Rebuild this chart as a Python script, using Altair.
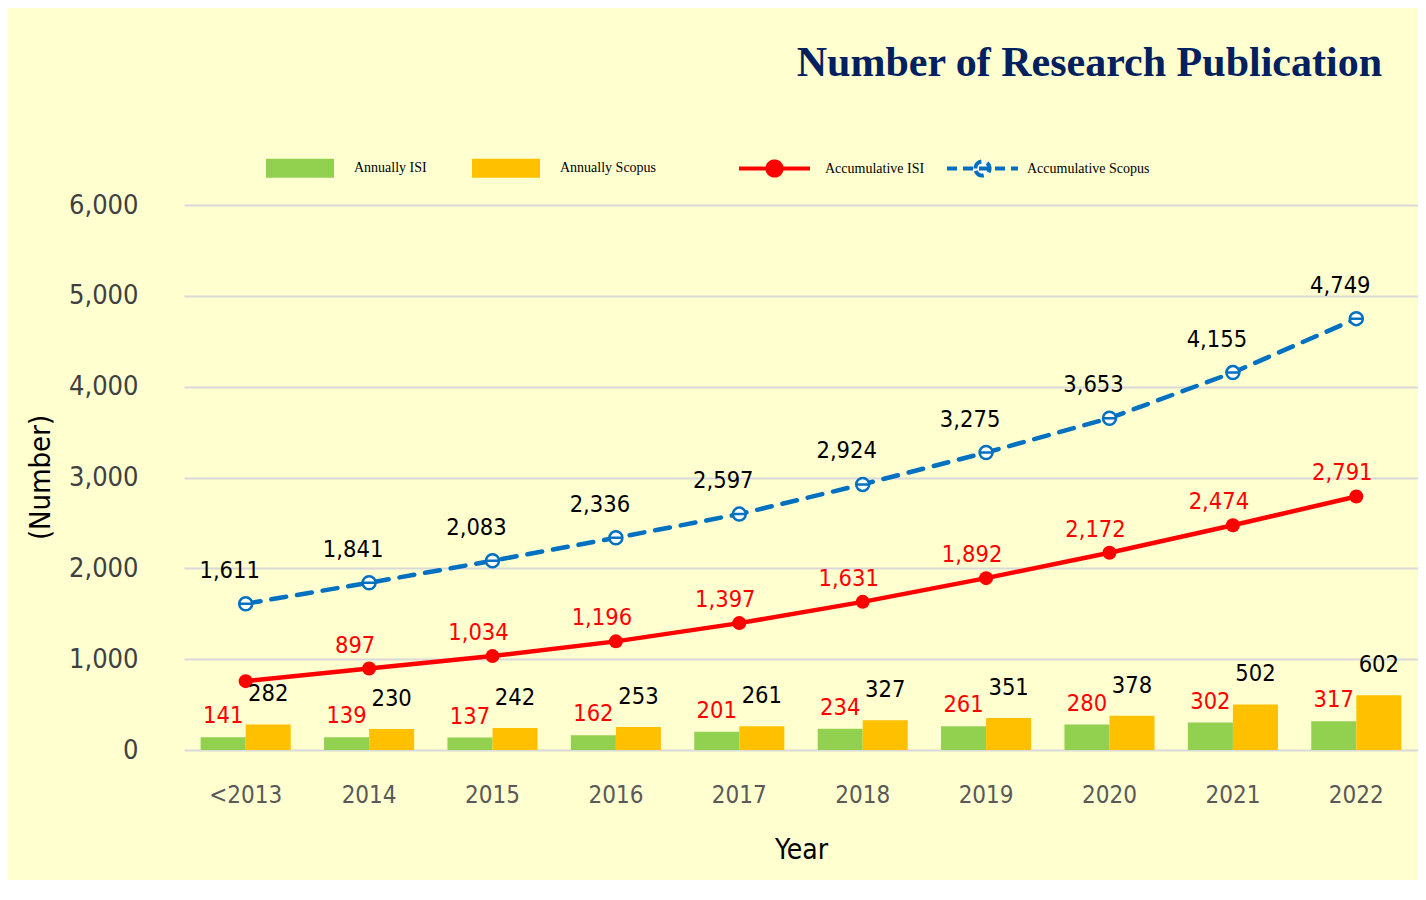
import altair as alt
import pandas as pd

# ---- data ----
years = ["<2013", "2014", "2015", "2016", "2017", "2018", "2019", "2020", "2021", "2022"]
annual_isi = [141, 139, 137, 162, 201, 234, 261, 280, 302, 317]
annual_scopus = [282, 230, 242, 253, 261, 327, 351, 378, 502, 602]
accum_isi = [758, 897, 1034, 1196, 1397, 1631, 1892, 2172, 2474, 2791]
accum_scopus = [1611, 1841, 2083, 2336, 2597, 2924, 3275, 3653, 4155, 4749]

bar_series = ["Annually ISI", "Annually Scopus"]
line_series = ["Accumulative ISI", "Accumulative Scopus"]

bars_df = pd.DataFrame(
    [{"year": y, "series": bar_series[0], "value": v} for y, v in zip(years, annual_isi)]
    + [{"year": y, "series": bar_series[1], "value": v} for y, v in zip(years, annual_scopus)]
)
lines_df = pd.DataFrame(
    [{"year": y, "series": line_series[0], "value": v} for y, v in zip(years, accum_isi)]
    + [{"year": y, "series": line_series[1], "value": v} for y, v in zip(years, accum_scopus)]
)

LABEL_FONT = "DejaVu Sans Condensed"
LINE_SYMBOL = "M-1,0H1M-0.2,0A0.2,0.2,0,1,1,0.2,0A0.2,0.2,0,1,1,-0.2,0Z"

x_enc = alt.X(
    "year:N",
    sort=years,
    scale=alt.Scale(domain=years, paddingInner=0.27, paddingOuter=0.135),
    axis=alt.Axis(
        title="Year",
        ticks=False,
        domain=False,
        labelAngle=0,
        labelFont=LABEL_FONT,
        labelFontSize=24,
        labelColor="#595959",
        labelPadding=33,
        titleFont=LABEL_FONT,
        titleFontSize=28,
        titleFontWeight="normal",
        titleColor="#000000",
        titleY=100,
        titleBaseline="middle",
    ),
)
y_enc = alt.Y(
    "value:Q",
    scale=alt.Scale(domain=[0, 6000]),
    axis=alt.Axis(
        title="(Number)",
        values=[0, 1000, 2000, 3000, 4000, 5000, 6000],
        format=",d",
        ticks=False,
        domain=False,
        grid=True,
        gridColor="#D9D9D9",
        gridWidth=2,
        labelFont=LABEL_FONT,
        labelFontSize=27,
        labelColor="#404040",
        labelPadding=46,
        titleFont=LABEL_FONT,
        titleFontSize=29,
        titleFontWeight="normal",
        titleColor="#000000",
        titleX=-144,
        titleY=272,
        titleAlign="center",
        titleBaseline="middle",
    ),
)
xoff = alt.XOffset("series:N", scale=alt.Scale(domain=bar_series, paddingInner=0, paddingOuter=0))


def line_legend(x, label_offset, fill, dash):
    return alt.Legend(
        orient="none",
        legendX=x,
        legendY=-74,
        direction="horizontal",
        title=None,
        padding=0,
        symbolType=LINE_SYMBOL,
        symbolSize=5041,
        symbolStrokeWidth=4,
        symbolFillColor=fill,
        symbolDash=dash,
        symbolOpacity=1,
        labelFont="Liberation Serif",
        labelFontSize=14,
        labelColor="#000000",
        labelOffset=label_offset,
    )


bar_base = alt.Chart(bars_df)
bars = bar_base.mark_bar().encode(
    x=x_enc,
    xOffset=xoff,
    y=y_enc,
    fill=alt.Fill(
        "series:N",
        scale=alt.Scale(domain=bar_series, range=["#92D050", "#FFC000"]),
        legend=alt.Legend(
            orient="none",
            legendX=82,
            legendY=-71,
            direction="horizontal",
            title=None,
            padding=0,
            symbolType="M-1,-0.28H1V0.28H-1Z",
            symbolSize=4624,
            symbolStrokeWidth=0,
            symbolOpacity=1,
            labelFont="Liberation Serif",
            labelFontSize=14,
            labelColor="#000000",
            labelOffset=20,
            columnPadding=45,
        ),
    ),
)

isi_bar_labels = bar_base.transform_filter(alt.datum.series == bar_series[0]).mark_text(
    font=LABEL_FONT, fontSize=23.5, color="#FF0000", baseline="middle", dy=-21
).encode(x=x_enc, xOffset=xoff, y=y_enc, text=alt.Text("value:Q", format=",d"))

scopus_bar_labels = bar_base.transform_filter(alt.datum.series == bar_series[1]).mark_text(
    font=LABEL_FONT, fontSize=23.5, color="#000000", baseline="middle", dy=-30
).encode(x=x_enc, xOffset=xoff, y=y_enc, text=alt.Text("value:Q", format=",d"))

line_base = alt.Chart(lines_df)
isi_base = line_base.transform_filter(alt.datum.series == line_series[0])
scopus_base = line_base.transform_filter(alt.datum.series == line_series[1])

isi_line = isi_base.mark_line(strokeWidth=4.5, strokeCap="round").encode(
    x=x_enc,
    y=y_enc,
    stroke=alt.Stroke(
        "series:N",
        scale=alt.Scale(domain=[line_series[0]], range=["#FF0000"]),
        legend=line_legend(553, 13, "#FF0000", [1, 0]),
    ),
)

scopus_line = scopus_base.mark_line(strokeWidth=4.5, strokeCap="round", strokeDash=[15, 11]).encode(
    x=x_enc,
    y=y_enc,
    color=alt.Color(
        "series:N",
        scale=alt.Scale(domain=[line_series[1]], range=["#0070C0"]),
        legend=line_legend(761, 7, "#FFFFFF", [10, 6]),
    ),
)

isi_points = isi_base.mark_point(
    shape="circle", filled=True, size=196, color="#FF0000", opacity=1
).encode(x=x_enc, y=y_enc)

scopus_points = scopus_base.mark_point(
    shape="M-1,0A1,1,0,1,1,1,0A1,1,0,1,1,-1,0Z M-1,0L1,0",
    filled=True,
    size=169,
    fill="#FFFFFF",
    stroke="#0070C0",
    strokeWidth=2.5,
    opacity=1,
).encode(x=x_enc, y=y_enc)

isi_line_labels = isi_base.transform_filter(alt.datum.year != years[0]).mark_text(
    font=LABEL_FONT, fontSize=23.5, color="#FF0000", baseline="middle", dx=-14, dy=-23
).encode(x=x_enc, y=y_enc, text=alt.Text("value:Q", format=",d"))

scopus_line_labels = scopus_base.mark_text(
    font=LABEL_FONT, fontSize=23.5, color="#000000", baseline="middle", dx=-16, dy=-33
).encode(x=x_enc, y=y_enc, text=alt.Text("value:Q", format=",d"))

chart = (
    alt.layer(
        bars,
        isi_line,
        scopus_line,
        isi_points,
        scopus_points,
        isi_bar_labels,
        scopus_bar_labels,
        isi_line_labels,
        scopus_line_labels,
    )
    .resolve_scale(fill="independent", stroke="independent", color="independent")
    .properties(
        width=1234,
        height=545,
        background="#FFFFD0",
        padding={"left": 176, "top": 197, "right": 0, "bottom": 130},
        autosize=alt.AutoSizeParams(type="none"),
        title=alt.Title(
            "Number of Research Publication",
            font="Liberation Serif",
            fontSize=42,
            fontWeight="bold",
            color="#002060",
            anchor="end",
            frame="group",
            offset=46,
            dx=-36,
        ),
    )
    .configure_view(stroke="transparent")
)

chart.save("out.html", embed_options={"renderer": "svg", "actions": False})
